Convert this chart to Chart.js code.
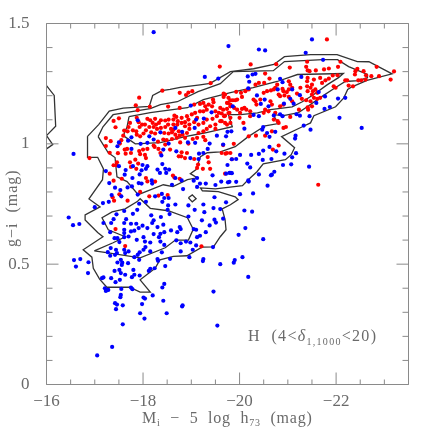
<!DOCTYPE html>
<html>
<head>
<meta charset="utf-8">
<title>g-i vs absolute magnitude</title>
<script src="https://cdn.jsdelivr.net/npm/chart.js@4"></script>
<style>
html, body { margin: 0; padding: 0; background: #fff; }
#wrap { width: 431px; height: 431px; }
</style>
</head>
<body>
<div id="wrap"><canvas id="magChart" width="431" height="431"></canvas></div>
<script>
// M_i - 5 log h73 (mag), g-i (mag)
const blueGalaxies = [
[-18.22,1.464],[-19.77,1.406],[-19.28,1.278],[-19.56,1.271],[-18.99,1.159],[-17.89,1.098],[-16.56,.958],[-18.67,1.066],[-18.36,1.048],[-18.81,1.05],
[-19.07,1.066],[-19.10,1.101],[-19.26,1.105],[-19.42,1.131],[-17.76,1.027],[-17.69,1.013],[-18.13,1.031],[-18.22,1.018],[-17.95,1.0],[-18.09,1.004],
[-18.53,1.001],[-17.50,1.006],[-17.47,.99],[-17.76,.979],[-18.42,.976],[-18.38,.952],[-18.69,.969],[-18.93,1.006],[-19.08,1.004],[-19.38,1.001],
[-19.34,.979],[-19.53,1.034],[-19.72,1.031],[-19.66,.997],[-19.16,.959],[-19.25,.962],[-19.15,.937],[-18.98,.941],[-17.99,.912],[-18.09,.907],
[-18.06,.896],[-17.97,.89],[-17.93,.873],[-17.79,.907],[-17.64,.891],[-17.62,.872],[-17.50,.907],[-17.23,.887],[-17.30,.837],[-17.42,.818],
[-17.35,.787],[-17.53,.808],[-17.55,.782],[-17.68,.819],[-17.78,.858],[-17.77,.823],[-17.91,.837],[-17.97,.835],[-17.89,.789],[-18.18,.848],
[-18.19,.835],[-18.30,.893],[-18.40,.916],[-18.46,.896],[-18.54,.893],[-18.48,.879],[-18.35,.879],[-18.67,.858],[-18.60,.83],[-18.80,.848],
[-18.83,.812],[-19.05,.847],[-19.12,.858],[-19.18,.835],[-19.12,.821],[-19.30,.835],[-19.44,.869],[-19.50,.829],[-19.62,.843],[-19.76,.84],
[-19.72,.876],[-18.25,.782],[-18.39,.792],[-18.44,.775],[-18.53,.775],[-19.48,.778],
[-17.0,.737],[-17.17,.754],[-17.29,.759],[-16.46,.694],[-16.55,.662],[-16.68,.667],[-17.18,.671],[-17.34,.671],[-17.39,.687],[-17.45,.707],
[-17.61,.721],[-17.79,.709],[-17.88,.726],[-17.92,.751],[-18.06,.759],[-18.40,.759],[-18.52,.744],[-18.67,.748],[-18.17,.703],[-18.37,.696],
[-18.22,.682],[-18.19,.671],[-18.51,.726],[-18.55,.708],[-18.94,.744],[-19.07,.726],[-19.25,.748],[-19.27,.716],[-18.94,.698],[-19.22,.682],
[-19.46,.733],[-19.60,.729],[-19.66,.689],[-19.48,.685],[-19.38,.661],[-19.51,.673],[-17.65,.687],[-17.61,.671],[-17.75,.668],[-17.86,.668],
[-17.91,.65],[-17.99,.66],[-18.09,.65],[-18.30,.654],[-18.42,.664],[-18.76,.654],[-18.78,.646],[-18.58,.64],[-18.71,.633],[-18.44,.633],
[-18.36,.626],[-18.22,.625],[-17.82,.639],[-17.75,.636],[-17.61,.643],[-17.61,.629],[-17.47,.608],[-17.41,.608],[-17.51,.592],[-17.61,.612],
[-17.70,.615],[-18.01,.612],[-17.87,.601],[-18.04,.594],[-18.15,.59],[-18.33,.612],[-18.36,.594],[-18.44,.58],[-18.69,.599],[-18.78,.587],
[-18.89,.594],[-18.98,.59],[-19.12,.612],[-19.18,.618],[-19.30,.633],[-19.05,.646],[-19.10,.643],[-17.32,.633],[-17.33,.567],[-17.27,.55],
[-17.32,.535],[-17.42,.539],[-17.44,.56],[-17.46,.546],[-17.61,.56],[-17.63,.546],[-17.70,.553],[-17.93,.549],[-17.89,.539],[-17.82,.529],
[-17.92,.518],[-18.01,.56],[-18.05,.571],[-18.15,.553],[-18.39,.549],[-18.30,.521],[-18.31,.514],[-18.56,.522],[-18.78,.553],[-18.96,.529],
[-19.03,.56],[-19.10,.578],[-19.25,.521],[-19.24,.513],[-19.45,.571],[-16.57,.517],[-16.70,.521],[-16.61,.49],[-16.87,.508],[-16.86,.463],
[-17.15,.442],[-17.18,.445],[-17.34,.442],[-17.52,.435],[-17.43,.425],[-17.41,.472],[-17.51,.476],[-17.54,.463],[-17.80,.476],[-17.82,.456],
[-17.77,.446],[-17.63,.456],[-17.93,.453],[-18.12,.472],[-18.15,.481],[-18.24,.483],[-18.46,.492],[-19.60,.5],[-17.54,.518],[-17.47,.507],
[-17.56,.497],[-17.57,.506],[-17.69,.504],[-18.44,.418],[-18.40,.403],[-19.46,.386],[-17.21,.4],[-17.25,.393],[-17.23,.389],[-17.28,.393],
[-17.55,.397],[-17.75,.403],[-17.78,.396],[-17.54,.372],[-17.53,.363],[-17.42,.338],[-17.46,.332],[-17.44,.313],[-17.58,.329],[-18.01,.361],
[-18.04,.357],[-18.20,.37],[-17.98,.334],[-18.42,.348],[-18.82,.329],[-18.81,.324],[-17.94,.296],[-18.03,.274],[-18.49,.296],[-17.58,.25],
[-19.54,.245],[-17.36,.156],[-17.05,.121],
[-20.40,1.392],[-20.53,1.388],[-21.50,1.434],[-21.37,1.378],[-21.73,1.349],[-21.28,1.278],[-20.17,1.28],[-20.27,1.288],[-20.33,1.291],[-20.20,1.258],
[-20.84,1.27],[-20.89,1.256],[-20.18,1.231],[-20.36,1.201],[-20.52,1.184],[-20.79,1.226],[-21.09,1.226],[-21.64,1.215],[-21.25,1.202],[-21.05,1.187],
[-21.12,1.167],[-20.92,1.167],[-21.77,1.197],[-21.59,1.17],[-22.04,1.188],[-22.19,1.191],[-21.87,1.153],[-21.76,1.145],[-22.07,1.108],[-22.53,1.066],
[-21.45,1.115],[-21.25,1.117],[-21.18,1.123],[-20.84,1.123],[-20.89,1.115],[-20.71,1.118],[-20.60,1.156],[-20.44,1.166],[-20.40,1.115],[-20.29,1.12],
[-19.86,1.156],[-20.10,1.063],[-19.83,1.052],[-19.75,1.05],[-20.49,1.07],[-20.47,1.059],[-20.57,1.045],[-20.62,1.029],[-20.74,1.05],[-21.33,1.076],
[-21.47,1.059],[-21.16,1.034],[-21.15,1.022],[-20.62,.987],[-20.01,.954],[-20.24,.954],[-20.40,.958],[-20.49,.972],[-20.76,.969],[-20.93,.959],
[-21.17,.961],[-21.09,.944],[-20.66,.937],[-20.48,.933],[-19.93,.937],[-19.84,.936],[-19.75,.912],[-20.16,.918],[-20.22,.902],[-19.82,.879],
[-19.79,.879],[-19.84,.878],[-19.79,.842],[-19.93,.842],[-20.18,.848],[-20.19,.843],[-20.40,.873],[-20.65,.869],[-20.67,.872],[-20.72,.884],
[-20.90,.912],[-21.07,.915],[-21.44,.905],[-20.58,.826],[-20.01,.791],[-20.28,.794],[-20.10,.723],[-20.26,.718],[-20.12,.65],[-19.98,.622],
[-20.49,.604],[-20.06,.529],[-19.90,.517],[-19.88,.506],[-20.18,.447],[-19.72,.757]
];

const redGalaxies = [
[-19.59,1.321],[-19.40,1.252],[-18.40,1.221],[-17.92,1.192],[-18.76,1.212],[-18.89,1.203],[-18.94,1.213],[-19.02,1.219],[-17.85,1.16],[-18.14,1.154],
[-18.52,1.155],[-18.76,1.149],[-17.89,1.14],[-17.39,1.095],[-17.50,1.106],[-17.43,1.069],[-17.23,1.024],[-17.33,1.011],[-17.23,.991],[-17.31,.963],
[-17.48,.961],[-16.89,.941],[-17.46,.923],[-17.39,.911],[-17.45,.911],[-17.31,.876],[-17.39,.847],[-17.56,.855],[-17.51,.79],[-17.37,.778],
[-17.73,1.087],[-17.70,1.07],[-17.68,1.052],[-17.61,1.055],[-17.59,1.034],[-17.55,1.015],[-17.52,1.001],[-17.67,.979],[-17.62,.976],[-17.64,.959],
[-17.75,.962],[-17.73,.923],[-17.84,.934],[-17.75,.904],[-17.90,.918],[-17.86,.896],[-18.04,.954],[-18.06,.941],[-17.92,.97],[-17.94,.957],
[-18.00,.976],[-18.09,.979],[-18.22,.993],[-18.32,.979],[-18.36,.962],[-18.24,.987],[-18.46,.997],[-18.49,1.015],[-18.42,1.018],[-18.31,1.009],
[-18.56,.976],[-18.60,1.02],[-18.67,1.038],[-18.70,1.025],[-18.77,1.006],[-18.94,1.001],[-18.80,.965],[-18.79,.948],[-18.87,.941],[-18.91,.962],
[-18.74,.948],[-19.06,.937],[-19.14,.914],[-19.12,.9],[-19.24,.896],[-19.36,.923],[-19.39,.896],[-19.34,.945],[-19.71,.959],[-19.81,.962],
[-18.62,.868],[-18.65,.86],[-18.76,.855],[-18.25,.843],[-18.06,.858],[-18.09,.844],[-18.32,.785],[-18.51,.787],[-18.13,.782],[-17.94,.8],
[-17.87,1.108],[-17.91,1.09],[-18.09,1.104],[-18.15,1.098],[-18.25,1.104],[-18.20,1.087],[-18.27,1.08],[-18.33,1.087],[-18.37,1.098],[-18.46,1.097],
[-18.53,1.101],[-18.52,1.08],[-18.65,1.117],[-18.69,1.112],[-18.63,1.101],[-18.72,1.094],[-18.80,1.108],[-18.91,1.115],[-18.94,1.101],[-19.01,1.122],
[-19.08,1.129],[-19.18,1.135],[-19.29,1.156],[-19.32,1.142],[-19.36,1.163],[-19.45,1.184],[-19.46,1.173],[-19.67,1.195],[-19.70,1.205],[-19.60,1.149],
[-19.66,1.142],[-19.57,1.129],[-19.63,1.126],[-19.70,1.117],[-19.53,1.115],[-19.44,1.104],[-19.32,1.101],[-19.25,1.087],[-19.15,1.08],[-19.06,1.09],
[-18.96,1.08],[-18.87,1.073],[-18.80,1.087],[-18.71,1.08],[-18.63,1.08],[-18.58,1.062],[-18.46,1.07],[-18.37,1.066],[-18.29,1.062],[-18.22,1.07],
[-18.13,1.07],[-18.04,1.08],[-17.98,1.08],[-17.93,1.07],[-17.86,1.052],[-17.79,1.056],[-17.87,1.038],[-17.94,1.031],[-18.01,1.043],[-18.06,1.056],
[-18.17,1.048],[-18.25,1.043],[-18.44,1.045],[-18.53,1.043],[-18.60,1.048],[-18.74,1.052],[-18.91,1.045],[-18.96,1.062],[-19.15,1.045],[-19.25,1.052],
[-19.32,1.062],[-19.39,1.073],[-19.50,1.08],[-19.50,1.062],[-19.25,1.029],[-19.29,1.015],[-19.12,1.025],[-19.03,1.02],[-18.87,1.025],[-18.76,1.034],
[-19.76,1.17],[-19.81,1.156],[-19.74,1.145],[-19.79,1.129],[-19.81,1.087],[-19.70,1.087],[-19.60,1.094],[-19.06,1.163],[-19.18,1.166],[-19.25,1.17],
[-19.43,1.156],[-19.50,1.135],[-19.25,1.135],[-19.12,1.108],[-18.87,1.09],[-18.82,1.038],[-18.63,1.059],
[-21.81,1.434],[-20.23,1.33],[-20.76,1.331],[-21.40,1.341],[-21.04,1.317],[-22.09,1.341],[-22.04,1.32],[-21.85,1.313],[-21.75,1.309],[-21.58,1.305],
[-21.38,1.32],[-21.41,1.305],[-21.45,1.302],[-22.84,1.32],[-22.57,1.302],[-23.20,1.301],[-22.89,1.281],[-22.73,1.281],[-22.62,1.285],[-22.44,1.312],
[-22.40,1.302],[-22.39,1.288],[-22.23,1.264],[-22.19,1.264],[-22.46,1.264],[-22.52,1.264],[-22.61,1.267],[-23.13,1.267],[-22.26,1.242],[-22.35,1.239],
[-21.95,1.239],[-21.99,1.233],[-22.03,1.285],[-21.93,1.284],[-21.85,1.271],[-21.78,1.264],[-21.71,1.253],[-21.67,1.274],[-21.54,1.267],[-21.41,1.274],
[-21.40,1.26],[-21.50,1.246],[-21.40,1.239],[-21.47,1.233],[-21.41,1.219],[-21.52,1.219],[-21.57,1.226],[-21.50,1.205],[-21.61,1.212],[-21.67,1.191],
[-21.54,1.191],[-21.61,1.187],[-21.47,1.177],[-21.38,1.181],[-21.23,1.142],[-21.41,1.152],[-21.50,1.156],[-21.42,1.142],[-21.02,1.26],[-21.05,1.246],
[-21.09,1.233],[-21.02,1.226],[-20.98,1.215],[-20.89,1.228],[-20.91,1.219],[-20.78,1.246],[-20.62,1.271],[-20.53,1.292],[-20.51,1.253],[-20.40,1.253],
[-20.33,1.246],[-20.19,1.226],[-20.12,1.219],[-20.03,1.212],[-19.93,1.216],[-20.05,1.195],[-19.67,1.209],[-19.77,1.191],[-19.81,1.181],[-19.86,1.181],
[-19.91,1.181],[-19.95,1.184],[-19.74,1.17],[-19.81,1.163],[-19.89,1.149],[-19.95,1.142],[-20.01,1.129],[-20.10,1.149],[-20.14,1.142],[-20.05,1.145],
[-20.22,1.135],[-20.29,1.184],[-20.33,1.177],[-20.35,1.163],[-20.43,1.184],[-20.50,1.212],[-20.57,1.219],[-20.65,1.222],[-20.71,1.226],[-20.74,1.233],
[-20.81,1.205],[-20.84,1.198],[-20.93,1.201],[-21.02,1.195],[-21.09,1.177],[-21.19,1.209],[-21.26,1.233],[-21.29,1.187],[-20.64,1.177],[-20.67,1.163],
[-20.53,1.142],[-20.50,1.129],[-20.60,1.135],[-20.74,1.129],[-20.84,1.156],[-20.91,1.163],[-20.79,1.094],[-20.71,1.101],[-20.81,1.087],[-20.91,1.066],
[-20.96,1.07],[-21.05,1.112],[-20.19,1.031],[-20.34,1.034],[-20.53,1.034],[-20.67,1.052],[-19.77,1.128],[-19.68,1.115],[-19.63,1.094],[-19.74,1.08],
[-19.66,.995],[-19.88,1.0],[-19.63,.962],[-19.74,.962],[-19.84,.936],[-20.69,.976],[-20.81,.993],[-19.70,.876],[-21.63,.83],[-19.81,1.108],
[-20.0,1.108],[-20.22,1.115],[-20.08,1.087],[-17.40,.764],[-17.68,.764],[-17.43,.646],[-17.63,.575],[-19.21,.574]
];

const outerContour = [
[-16.85,1.031],[-17.08,1.08],[-17.30,1.136],[-17.59,1.148],[-18.13,1.156],[-18.20,1.201],[-18.39,1.221],[-18.56,1.226],[-18.77,1.235],[-19.18,1.245],
[-19.39,1.251],[-19.81,1.3],[-20.29,1.312],[-20.71,1.33],[-20.93,1.362],[-21.47,1.371],[-22.02,1.371],[-22.44,1.342],[-22.68,1.341],[-23.16,1.291],
[-22.64,1.264],[-22.33,1.237],[-22.24,1.226],[-22.16,1.191],[-21.99,1.154],[-21.54,1.117],[-21.47,1.087],[-21.30,1.071],[-20.87,1.03],[-21.14,.984],
[-21.07,.955],[-20.95,.934],[-20.49,.917],[-20.36,.884],[-20.18,.851],[-20.06,.826],[-19.5,.813],[-19.19,.817],[-19.23,.805],[-19.56,.801],
[-19.91,.78],[-19.97,.768],[-19.81,.747],[-19.64,.73],[-19.70,.684],[-19.72,.643],[-19.6,.614],[-19.46,.572],[-19.22,.571],[-18.91,.535],
[-18.63,.532],[-18.35,.518],[-18.25,.483],[-17.94,.435],[-18.15,.384],[-17.94,.384],[-17.72,.404],[-17.25,.404],[-17.10,.438],[-16.97,.483],
[-16.94,.529],[-16.76,.56],[-17.17,.614],[-17.06,.632],[-16.80,.684],[-16.80,.705],[-17.11,.738],[-16.88,.771],[-17.16,.851],[-17.18,.896],
[-17.06,.944],[-16.85,.944],[-16.85,1.031]
];

const middleContour = [
[-17.07,1.03],[-17.17,1.071],[-17.38,1.121],[-18.15,1.146],[-18.36,1.163],[-18.71,1.175],[-19.14,1.217],[-19.6,1.25],[-19.87,1.3],[-20.70,1.304],
[-20.93,1.342],[-21.72,1.35],[-22.03,1.35],[-22.26,1.321],[-22.65,1.288],[-22.65,1.275],[-22.46,1.263],[-22.19,1.259],[-21.99,1.234],[-21.67,1.192],
[-21.41,1.155],[-21.22,1.13],[-20.91,1.117],[-20.70,1.121],[-20.80,1.084],[-20.53,1.075],[-20.18,1.03],[-19.91,.988],[-19.6,.967],[-19.33,.963],
[-19.19,.947],[-19.10,.893],[-18.98,.876],[-19.12,.859],[-18.92,.851],[-18.62,.822],[-18.42,.83],[-17.90,.789],[-17.67,.843],[-17.46,.863],
[-17.42,.943],[-17.28,.963],[-17.07,1.03]
];

const innerContour = [
[-17.71,1.113],[-18.15,1.13],[-18.92,1.15],[-19.25,1.184],[-19.81,1.213],[-20.28,1.234],[-20.78,1.259],[-21.20,1.288],[-22.15,1.292],[-22.05,1.275],
[-21.82,1.246],[-21.53,1.204],[-21.30,1.175],[-21.09,1.154],[-20.64,1.142],[-20.37,1.129],[-20.02,1.121],[-19.77,1.121],[-19.85,1.071],[-19.29,1.046],
[-18.87,1.03],[-18.36,1.005],[-17.84,1.0],[-17.59,1.034],[-17.67,1.071],[-17.71,1.113]
];

const lowerContour = [
[-16.99,.555],[-17.38,.589],[-17.63,.614],[-17.28,.643],[-17.15,.693],[-17.36,.717],[-17.63,.73],[-17.88,.76],[-17.94,.772],[-18.15,.732],
[-18.52,.722],[-18.92,.693],[-19.04,.645],[-18.94,.6],[-18.67,.6],[-18.46,.568],[-17.94,.526],[-17.28,.547],[-16.99,.555]
];

const smallContour = [[-18.94,.776],[-19.02,.788],[-19.10,.772],[-19.02,.759],[-18.94,.776]];
const edgeContour = [[-16.0,1.242],[-16.16,1.201],[-16.19,1.073],[-16.0,1.034],[-16.13,.997],[-16.0,.979]];

const contours = [outerContour, middleContour, innerContour, lowerContour, smallContour, edgeContour];
const xLabelTicks = [-16, -18, -20, -22];
const yLabelTicks = [0, 0.5, 1, 1.5];

const axisGray = '#8a8a8a';
const textGray = '#6a6a6a';
const serif = '"Liberation Serif", serif';

function toPoints(rows) {
    return rows.map(r => ({ x: r[0], y: r[1] }));
}

// inward ticks on all four sides + frame, the way the figure has them
const frameTicks = {
    id: 'frameTicks',
    afterDraw(chart) {
        const { ctx, chartArea: a, scales } = chart;
        ctx.save();
        ctx.strokeStyle = axisGray;
        ctx.lineWidth = 1;
        ctx.beginPath();
        ctx.rect(a.left, a.top, a.right - a.left, a.bottom - a.top);
        scales.x.ticks.forEach(t => {
            const px = scales.x.getPixelForValue(t.value);
            const len = t.label !== '' ? 12 : 5;
            ctx.moveTo(px, a.bottom); ctx.lineTo(px, a.bottom - len);
            ctx.moveTo(px, a.top); ctx.lineTo(px, a.top + len);
        });
        scales.y.ticks.forEach(t => {
            const py = scales.y.getPixelForValue(t.value);
            const len = t.label !== '' ? 12 : 6;
            ctx.moveTo(a.left, py); ctx.lineTo(a.left + len, py);
            ctx.moveTo(a.right, py); ctx.lineTo(a.right - len, py);
        });
        ctx.stroke();
        ctx.restore();
    }
};

// labels with subscripts, which axis titles can't do
function drawRuns(ctx, x, y, runs) {
    runs.forEach(r => {
        ctx.font = r.font;
        ctx.fillText(r.text, x, y + (r.dy || 0));
        x += ctx.measureText(r.text).width;
    });
}

const richLabels = {
    id: 'richLabels',
    afterDraw(chart) {
        const ctx = chart.ctx;
        ctx.save();
        ctx.fillStyle = textGray;
        ctx.textAlign = 'left';
        ctx.textBaseline = 'alphabetic';
        ctx.letterSpacing = '0.8px';
        const big = '16px ' + serif;
        const sub = '10px ' + serif;
        drawRuns(ctx, 142, 423, [
            { text: 'M', font: big },
            { text: 'i', font: sub, dy: 3 },
            { text: '  \u2212  5  log  h', font: big },
            { text: '73', font: sub, dy: 3 },
            { text: '  (mag)', font: big }
        ]);
        ctx.letterSpacing = '1.3px';
        drawRuns(ctx, 248, 341, [
            { text: 'H  (4<', font: big },
            { text: '\u03b4', font: 'italic ' + big },
            { text: '1,1000', font: sub, dy: 4 },
            { text: '<20)', font: big }
        ]);
        // y title
        ctx.translate(17, 247);
        ctx.rotate(-Math.PI / 2);
        ctx.letterSpacing = '1px';
        drawRuns(ctx, 0, 0, [{ text: 'g\u2212i  (mag)', font: big }]);
        ctx.restore();
    }
};

const lineSets = contours.map(rows => ({
    type: 'scatter',
    data: toPoints(rows),
    showLine: true,
    borderColor: '#333333',
    borderWidth: 1.3,
    tension: 0,
    pointRadius: 0,
    order: 3
}));

new Chart(document.getElementById('magChart').getContext('2d'), {
    type: 'scatter',
    data: {
        datasets: [{
            label: 'blue',
            data: toPoints(blueGalaxies),
            backgroundColor: '#0000ff',
            borderWidth: 0,
            pointRadius: 2.1,
            order: 1
        }, {
            label: 'red',
            data: toPoints(redGalaxies),
            backgroundColor: '#ff0000',
            borderWidth: 0,
            pointRadius: 2.1,
            order: 2
        }].concat(lineSets)
    },
    options: {
        responsive: false,
        animation: false,
        devicePixelRatio: 1,
        layout: { padding: { top: 23.5, right: 22.5, left: 0, bottom: 0 } },
        plugins: { legend: { display: false }, tooltip: { enabled: false } },
        scales: {
            x: {
                type: 'linear',
                reverse: true,
                min: -23.5,
                max: -16,
                afterFit: s => { s.height = 46.5; },
                grid: { display: false },
                border: { display: false },
                ticks: {
                    stepSize: 0.5,
                    autoSkip: false,
                    maxRotation: 0,
                    padding: -1,
                    color: textGray,
                    font: { family: serif, size: 17 },
                    callback: v => xLabelTicks.includes(v) ? '\u2212' + Math.abs(v) : ''
                }
            },
            y: {
                min: 0,
                max: 1.5,
                afterFit: s => { s.width = 46.5; },
                grid: { display: false },
                border: { display: false },
                ticks: {
                    stepSize: 0.1,
                    autoSkip: false,
                    padding: 9,
                    color: textGray,
                    font: { family: serif, size: 17 },
                    callback: v => {
                        const r = Math.round(v * 10) / 10;
                        return yLabelTicks.includes(r) ? String(r) : '';
                    }
                }
            }
        }
    },
    plugins: [frameTicks, richLabels]
});
</script>
</body>
</html>
